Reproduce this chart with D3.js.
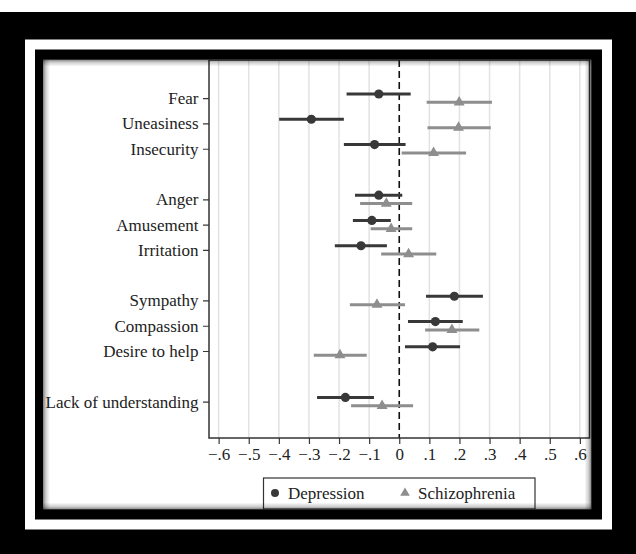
<!DOCTYPE html>
<html>
<head>
<meta charset="utf-8">
<script src="https://cdn.jsdelivr.net/npm/d3@7"></script>
<style>
  html, body { margin: 0; padding: 0; background: #000; }
  svg { display: block; }
  text { font-family: "Liberation Serif", "Times New Roman", serif; }
</style>
</head>
<body>
<svg id="chart" width="636" height="554"></svg>
<script>
// ---- data ----
const groups = [
  ["Fear", "Uneasiness", "Insecurity"],
  ["Anger", "Amusement", "Irritation"],
  ["Sympathy", "Compassion", "Desire to help"],
  ["Lack of understanding"]
];
const seriesNames = ["Depression", "Schizophrenia"];
const depEst = [-0.068, -0.292, -0.082, -0.068, -0.091, -0.127, 0.183, 0.120, 0.111, -0.179];
const depLo  = [-0.175, -0.399, -0.184, -0.147, -0.154, -0.214, 0.089, 0.029, 0.019, -0.273];
const depHi  = [ 0.038, -0.184,  0.021,  0.010, -0.028, -0.041, 0.278, 0.211, 0.202, -0.084];
const schEst = [ 0.199,  0.197,  0.114, -0.043, -0.027,  0.031, -0.074, 0.175, -0.197, -0.057];
const schLo  = [ 0.091,  0.094,  0.008, -0.130, -0.095, -0.060, -0.164, 0.086, -0.284, -0.160];
const schHi  = [ 0.308,  0.304,  0.222,  0.043,  0.043,  0.123,  0.019, 0.266, -0.108,  0.046];
const xTicks = [-0.6, -0.5, -0.4, -0.3, -0.2, -0.1, 0, 0.1, 0.2, 0.3, 0.4, 0.5, 0.6];
const xTickLabels = ["\u2212.6", "\u2212.5", "\u2212.4", "\u2212.3", "\u2212.2", "\u2212.1", "0", ".1", ".2", ".3", ".4", ".5", ".6"];

// category slots with a blank slot between groups
const categories = [];
const slots = [];
let s = 0;
groups.forEach((g, gi) => {
  g.forEach(c => { categories.push(c); slots.push(s); s++; });
  s++;
});

const svg = d3.select("#chart");
const W = 636, H = 554;
const dark = "#383838", light = "#8e8e8e";
const FONT = "Liberation Serif, Times New Roman, serif";
const FS = "17px";

// background / frames
svg.append("rect").attr("width", W).attr("height", H).attr("fill", "#000");
svg.append("rect").attr("x", 0).attr("y", 0).attr("width", W).attr("height", 12).attr("fill", "#fff");
svg.append("rect").attr("x", 25).attr("y", 39.5).attr("width", 587).attr("height", 490).attr("fill", "#fff");
svg.append("rect").attr("x", 35).attr("y", 49.5).attr("width", 567).attr("height", 470).attr("fill", "#000");

const P = {x: 43, y: 59.5, w: 548.5, h: 450};
const defs = svg.append("defs");
defs.append("clipPath").attr("id", "panelClip").append("rect")
  .attr("x", P.x).attr("y", P.y).attr("width", P.w).attr("height", P.h);

const g = svg.append("g").attr("clip-path", "url(#panelClip)");
g.append("rect").attr("x", P.x).attr("y", P.y).attr("width", P.w).attr("height", P.h).attr("fill", "#fff");

// scales
const plot = {l: 209, r: 589.5, t: 60, b: 438};
const x = d3.scaleLinear().domain([-0.632, 0.632]).range([plot.l, plot.r]);
const y = d3.scaleLinear().domain([-1.51, 13.44]).range([plot.t, plot.b]);

// grid
g.append("g").selectAll("line").data(xTicks.filter(v => v !== 0)).join("line")
  .attr("x1", d => x(d)).attr("x2", d => x(d))
  .attr("y1", plot.t).attr("y2", plot.b)
  .attr("stroke", "#e2e2e2").attr("stroke-width", 1.5);

// zero line
g.append("line").attr("x1", x(0)).attr("x2", x(0)).attr("y1", plot.t).attr("y2", plot.b)
  .attr("stroke", "#111").attr("stroke-width", 1.6).attr("stroke-dasharray", "7,4");

// axes
const xAxis = d3.axisBottom(x).tickValues(xTicks).tickFormat((d, i) => xTickLabels[i]).tickSize(6).tickPadding(4);
const gx = g.append("g").attr("transform", `translate(0,${plot.b})`).call(xAxis);
gx.attr("font-family", FONT);
gx.select(".domain").remove();
gx.selectAll("line").attr("stroke", dark).attr("stroke-width", 1.2);
gx.selectAll("text").attr("font-size", FS).attr("fill", "#222").attr("font-family", FONT);

const yAxis = d3.axisLeft(y).tickValues(slots).tickFormat((d, i) => categories[i]).tickSize(6).tickPadding(4.5);
const gy = g.append("g").attr("transform", `translate(${plot.l},0)`).call(yAxis);
gy.attr("font-family", FONT);
gy.select(".domain").remove();
gy.selectAll("line").attr("stroke", dark).attr("stroke-width", 1.2);
gy.selectAll("text").attr("font-size", FS).attr("fill", "#222").attr("font-family", FONT);

// plot box
g.append("rect").attr("x", plot.l).attr("y", plot.t).attr("width", plot.r - plot.l).attr("height", plot.b - plot.t)
  .attr("fill", "none").attr("stroke", "#333").attr("stroke-width", 1.5);

// series
const off = 0.165;
const series = [
  {name: seriesNames[0], est: depEst, lo: depLo, hi: depHi, color: dark, dy: -off, shape: d3.symbolCircle, size: 66},
  {name: seriesNames[1], est: schEst, lo: schLo, hi: schHi, color: light, dy: off, shape: d3.symbolTriangle, size: 52}
];
series.forEach(sr => {
  const sg = g.append("g");
  sg.selectAll("line").data(categories).join("line")
    .attr("x1", (d, i) => x(sr.lo[i])).attr("x2", (d, i) => x(sr.hi[i]))
    .attr("y1", (d, i) => y(slots[i] + sr.dy)).attr("y2", (d, i) => y(slots[i] + sr.dy))
    .attr("stroke", sr.color).attr("stroke-width", 3);
  sg.selectAll("path").data(categories).join("path")
    .attr("d", d3.symbol().type(sr.shape).size(sr.size))
    .attr("transform", (d, i) => `translate(${x(sr.est[i])},${y(slots[i] + sr.dy)})`)
    .attr("fill", sr.color);
});

// legend
const lg = g.append("g");
lg.append("rect").attr("x", 263.5).attr("y", 478).attr("width", 271.5).attr("height", 31)
  .attr("fill", "#fff").attr("stroke", "#333").attr("stroke-width", 1.2);
const legendItems = [
  {x: 275, tx: 288, s: series[0], size: 50},
  {x: 405, tx: 418, s: series[1], size: 40}
];
legendItems.forEach(it => {
  lg.append("path").attr("d", d3.symbol().type(it.s.shape).size(it.size))
    .attr("transform", `translate(${it.x},493)`).attr("fill", it.s.color);
  lg.append("text").attr("x", it.tx).attr("y", 499).attr("font-size", FS).attr("fill", "#222")
    .attr("font-family", FONT).text(it.s.name);
});

// inset shadow of the panel
function grad(id, x1, y1, x2, y2) {
  const lgd = defs.append("linearGradient").attr("id", id)
    .attr("x1", x1).attr("y1", y1).attr("x2", x2).attr("y2", y2);
  lgd.append("stop").attr("offset", "0").attr("stop-color", "#000").attr("stop-opacity", 0.5);
  lgd.append("stop").attr("offset", "0.4").attr("stop-color", "#000").attr("stop-opacity", 0.2);
  lgd.append("stop").attr("offset", "1").attr("stop-color", "#000").attr("stop-opacity", 0);
}
grad("gl", 0, 0, 1, 0); grad("gr", 1, 0, 0, 0); grad("gt", 0, 0, 0, 1); grad("gb", 0, 1, 0, 0);
const sh = 7;
svg.append("rect").attr("x", P.x).attr("y", P.y).attr("width", sh).attr("height", P.h).attr("fill", "url(#gl)");
svg.append("rect").attr("x", P.x + P.w - sh).attr("y", P.y).attr("width", sh).attr("height", P.h).attr("fill", "url(#gr)");
svg.append("rect").attr("x", P.x).attr("y", P.y).attr("width", P.w).attr("height", sh).attr("fill", "url(#gt)");
svg.append("rect").attr("x", P.x).attr("y", P.y + P.h - sh).attr("width", P.w).attr("height", sh).attr("fill", "url(#gb)");
</script>
</body>
</html>
